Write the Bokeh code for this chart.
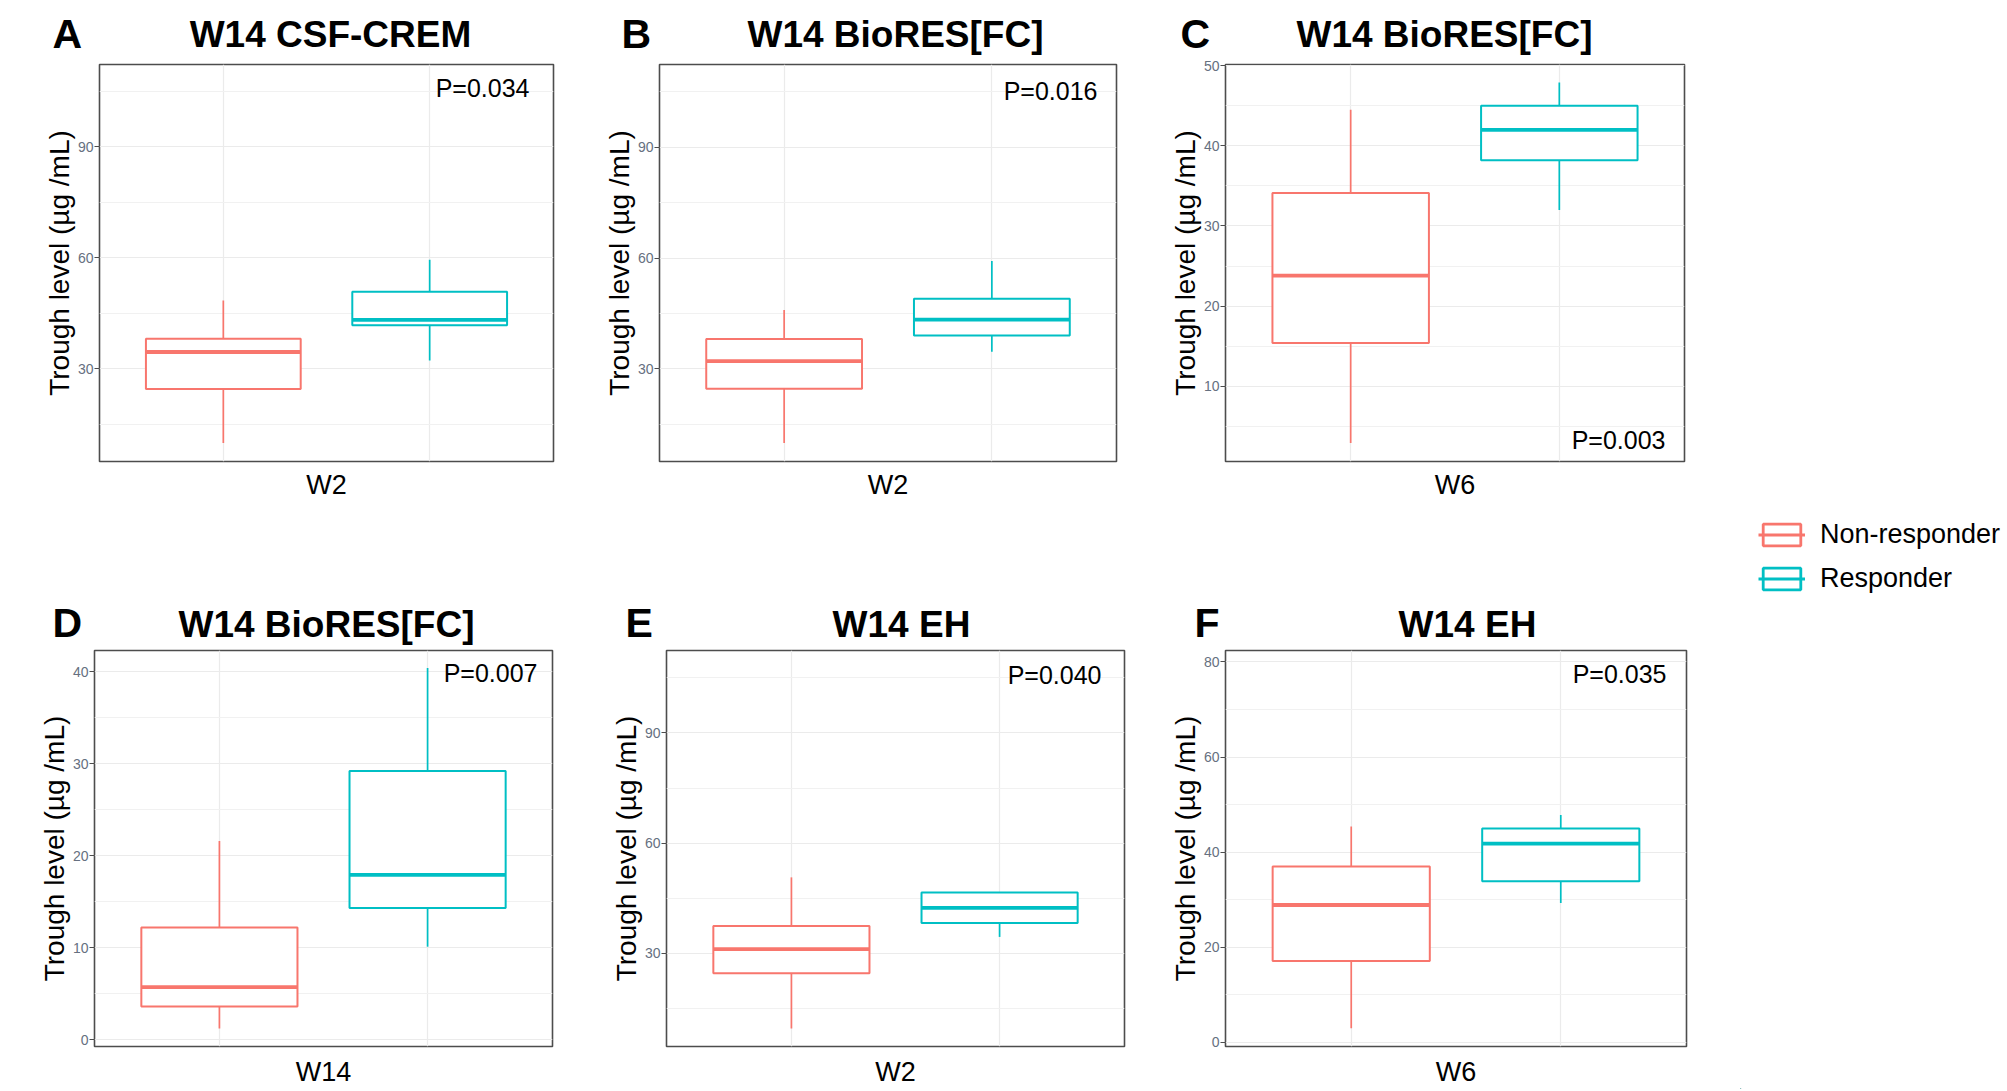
from bokeh.plotting import figure
from bokeh.models import ColumnDataSource, Range1d, FixedTicker, Label, Legend, LegendItem
from bokeh.layouts import row, column
from bokeh.embed import file_html
from bokeh.resources import INLINE
from bokeh.core.properties import value

# ---------------- data ----------------
groups = ["Non-responder", "Responder"]
group_colors = ["#F8766D", "#00BFC4"]

panel_letters = ["A", "B", "C", "D", "E", "F"]
panel_titles = ["W14 CSF-CREM", "W14 BioRES[FC]", "W14 BioRES[FC]",
                "W14 BioRES[FC]", "W14 EH", "W14 EH"]
timepoints = ["W2", "W2", "W6", "W14", "W2", "W6"]
p_texts = ["P=0.034", "P=0.016", "P=0.003", "P=0.007", "P=0.040", "P=0.035"]
y_title = "Trough level (µg /mL)"

# five-number summaries (lower whisker, Q1, median, Q3, upper whisker), one value per panel
nr_low = [9.9, 9.9, 2.9, 1.2, 9.6, 3.0]
nr_q1 = [24.5, 24.6, 15.4, 3.6, 24.6, 17.1]
nr_med = [34.5, 32.1, 23.8, 5.7, 31.2, 28.9]
nr_q3 = [38.1, 38.1, 34.1, 12.2, 37.5, 37.0]
nr_high = [48.4, 45.9, 44.5, 21.6, 50.7, 45.4]

r_low = [32.2, 34.6, 32.0, 10.1, 34.5, 29.3]
r_q1 = [41.7, 39.0, 38.2, 14.3, 38.3, 33.9]
r_med = [43.2, 43.3, 42.0, 17.9, 42.4, 41.8]
r_q3 = [50.8, 49.0, 45.0, 29.2, 46.6, 45.0]
r_high = [59.4, 59.2, 47.9, 40.4, 46.6, 47.8]

# axis limits and ticks
x_limits = [0.4, 2.6]
y_start = [4.9, 4.9, 0.6, -0.75, 4.7, -0.85]
y_end = [112.2, 112.4, 50.15, 42.3, 112.4, 82.4]
y_major = [[30, 60, 90], [30, 60, 90], [10, 20, 30, 40, 50],
           [0, 10, 20, 30, 40], [30, 60, 90], [0, 20, 40, 60, 80]]
y_minor = [[15, 45, 75, 105], [15, 45, 75, 105], [5, 15, 25, 35, 45],
           [5, 15, 25, 35], [15, 45, 75, 105], [10, 30, 50, 70]]

# ---------------- layout / style ----------------
FONT = "Liberation Sans"
BOX_WIDTH = 0.75
col_widths = [580, 570, 590]
header_heights = [56, 58]
row_heights = [534, 441]
borders_lr = [(99, 27), (79, 34), (75, 56), (94, 28), (86, 26), (75, 54)]
borders_tb = [(8, 129), (2, 42)]
label_standoff = [8, 10]
title_x = [330, 895, 1444, 326, 901, 1467]
letter_x = [52, 621, 1180, 52, 625, 1194]
title_y = [34, 34]    # text anchor inside each header band
letter_y = [33, 32]
p_offsets = [(24, 23, "top"), (19, 26, "top"), (19, 22, "bottom"),
             (15, 23, "top"), (23, 25, "top"), (20, 24, "top")]
total_w = sum(col_widths)
total_h = sum(header_heights) + sum(row_heights)


def make_header(r):
    h = header_heights[r]
    fig = figure(width=total_w, height=h, output_backend="svg", toolbar_location=None,
                 x_range=Range1d(0, total_w), y_range=Range1d(h, 0), min_border=0,
                 x_axis_type=None, y_axis_type=None)
    fig.outline_line_color = None
    fig.background_fill_color = "white"
    fig.border_fill_color = "white"
    idx = [3 * r + k for k in range(3)]
    tsrc = ColumnDataSource(dict(x=[title_x[i] for i in idx],
                                 y=[title_y[r]] * 3,
                                 text=[panel_titles[i] for i in idx]))
    fig.text(x="x", y="y", text="text", source=tsrc, text_font=value(FONT),
             text_font_size=value("37px"), text_font_style="bold", text_color="black",
             text_align="center", text_baseline="alphabetic")
    lsrc = ColumnDataSource(dict(x=[letter_x[i] for i in idx],
                                 y=[letter_y[r]] * 3,
                                 text=[panel_letters[i] for i in idx]))
    fig.text(x="x", y="y", text="text", source=lsrc, text_font=value(FONT),
             text_font_size=value("41px"), text_font_style="bold", text_color="black",
             text_align="left", text_baseline="alphabetic")
    return fig


def make_panel(i, w, h, bl, br, bt, bb, standoff):
    p = figure(width=w, height=h, output_backend="svg", toolbar_location=None,
               x_range=Range1d(x_limits[0], x_limits[1]),
               y_range=Range1d(y_start[i], y_end[i]),
               min_border_left=bl, min_border_right=br,
               min_border_top=bt, min_border_bottom=bb)
    p.background_fill_color = "white"
    p.border_fill_color = "white"
    p.outline_line_color = "#4d4d4d"
    p.outline_line_width = 1.6

    xs = [k + 1 for k in range(len(groups))]
    src = ColumnDataSource(dict(
        x=xs,
        x0=[x - BOX_WIDTH / 2 for x in xs],
        x1=[x + BOX_WIDTH / 2 for x in xs],
        low=[nr_low[i], r_low[i]],
        q1=[nr_q1[i], r_q1[i]],
        med=[nr_med[i], r_med[i]],
        q3=[nr_q3[i], r_q3[i]],
        high=[nr_high[i], r_high[i]],
        color=group_colors,
    ))
    p.segment(x0="x", y0="low", x1="x", y1="q1", line_color="color", line_width=1.7, source=src)
    p.segment(x0="x", y0="q3", x1="x", y1="high", line_color="color", line_width=1.7, source=src)
    p.vbar(x="x", width=BOX_WIDTH, bottom="q1", top="q3", fill_color="white",
           line_color="color", line_width=2.0, source=src)
    p.segment(x0="x0", y0="med", x1="x1", y1="med", line_color="color", line_width=3.8, source=src)

    # axes
    p.xaxis.ticker = FixedTicker(ticks=[], minor_ticks=[])
    p.xgrid.ticker = FixedTicker(ticks=xs, minor_ticks=[])
    yt = FixedTicker(ticks=y_major[i], minor_ticks=y_minor[i])
    p.yaxis.ticker = yt
    p.ygrid.ticker = yt

    for ax in (p.xaxis[0], p.yaxis[0]):
        ax.axis_line_color = None
        ax.major_tick_in = 0
        ax.major_tick_line_color = "#4d4d4d"
        ax.major_tick_line_width = 1.2
        ax.minor_tick_out = 0
        ax.minor_tick_in = 0
        ax.minor_tick_line_color = None
        ax.axis_label_text_font = FONT
        ax.axis_label_text_font_style = "normal"
        ax.axis_label_text_color = "black"

    p.xaxis.major_tick_out = 0
    p.xaxis.major_label_standoff = 0
    p.xaxis.axis_label = timepoints[i]
    p.xaxis.axis_label_text_font_size = "27px"
    p.xaxis.axis_label_standoff = standoff

    p.yaxis.major_tick_out = 5
    p.yaxis.major_label_text_font_size = "14px"
    p.yaxis.major_label_text_font = FONT
    p.yaxis.major_label_text_color = "#667080"
    p.yaxis.major_label_standoff = 1
    p.yaxis.axis_label = y_title
    p.yaxis.axis_label_text_font_size = "28px"
    p.yaxis.axis_label_standoff = 0

    p.xgrid.grid_line_color = "#ebebeb"
    p.xgrid.grid_line_width = 1.2
    p.ygrid.grid_line_color = "#ebebeb"
    p.ygrid.grid_line_width = 1.2
    p.ygrid.minor_grid_line_color = "#f1f1f1"
    p.ygrid.minor_grid_line_width = 1.0

    # p-value annotation, placed from pixel offsets relative to the frame
    fw = w - bl - br
    fh = h - bt - bb
    xpx = (x_limits[1] - x_limits[0]) / fw
    ypx = (y_end[i] - y_start[i]) / fh
    pdx, pdy, where = p_offsets[i]
    py = y_end[i] - pdy * ypx if where == "top" else y_start[i] + pdy * ypx
    p.add_layout(Label(x=x_limits[1] - pdx * xpx, y=py, text=p_texts[i],
                       text_font=FONT, text_font_size="25px", text_color="black",
                       text_align="right", text_baseline="alphabetic"))
    return p


panels = []
for i in range(6):
    r, c = divmod(i, 3)
    bl, br = borders_lr[i]
    bt, bb = borders_tb[r]
    panels.append(make_panel(i, col_widths[c], row_heights[r], bl, br, bt, bb, label_standoff[r]))

headers = [make_header(0), make_header(1)]

# ---------------- legend ----------------
lg = figure(width=267, height=total_h, output_backend="svg", toolbar_location=None,
            x_range=Range1d(0, 1), y_range=Range1d(0, 1), min_border=0,
            x_axis_type=None, y_axis_type=None)
lg.outline_line_color = None
lg.background_fill_color = "white"
lg.border_fill_color = "white"
items = []
for g, col in zip(groups, group_colors):
    off = ColumnDataSource(dict(x=[-5.0], top=[-5.0], bottom=[-6.0], y=[-5.0]))
    rb = lg.vbar(x="x", top="top", bottom="bottom", width=0.5, source=off,
                 fill_color="white", line_color=col, line_width=2.8)
    rm = lg.line(x="x", y="y", source=off, line_color=col, line_width=3.0)
    items.append(LegendItem(label=g, renderers=[rb, rm]))
legend = Legend(items=items, location=(18, 495), glyph_width=47, glyph_height=27,
                spacing=13, label_standoff=15, padding=0, margin=0,
                border_line_color=None, background_fill_alpha=0,
                label_text_font=FONT, label_text_font_size="27px",
                label_text_color="black", label_text_baseline="middle")
lg.add_layout(legend)

left = column(headers[0], row(*panels[:3]), headers[1], row(*panels[3:]))
layout = row(left, lg)
open("out.html", "w").write(file_html(layout, INLINE))
